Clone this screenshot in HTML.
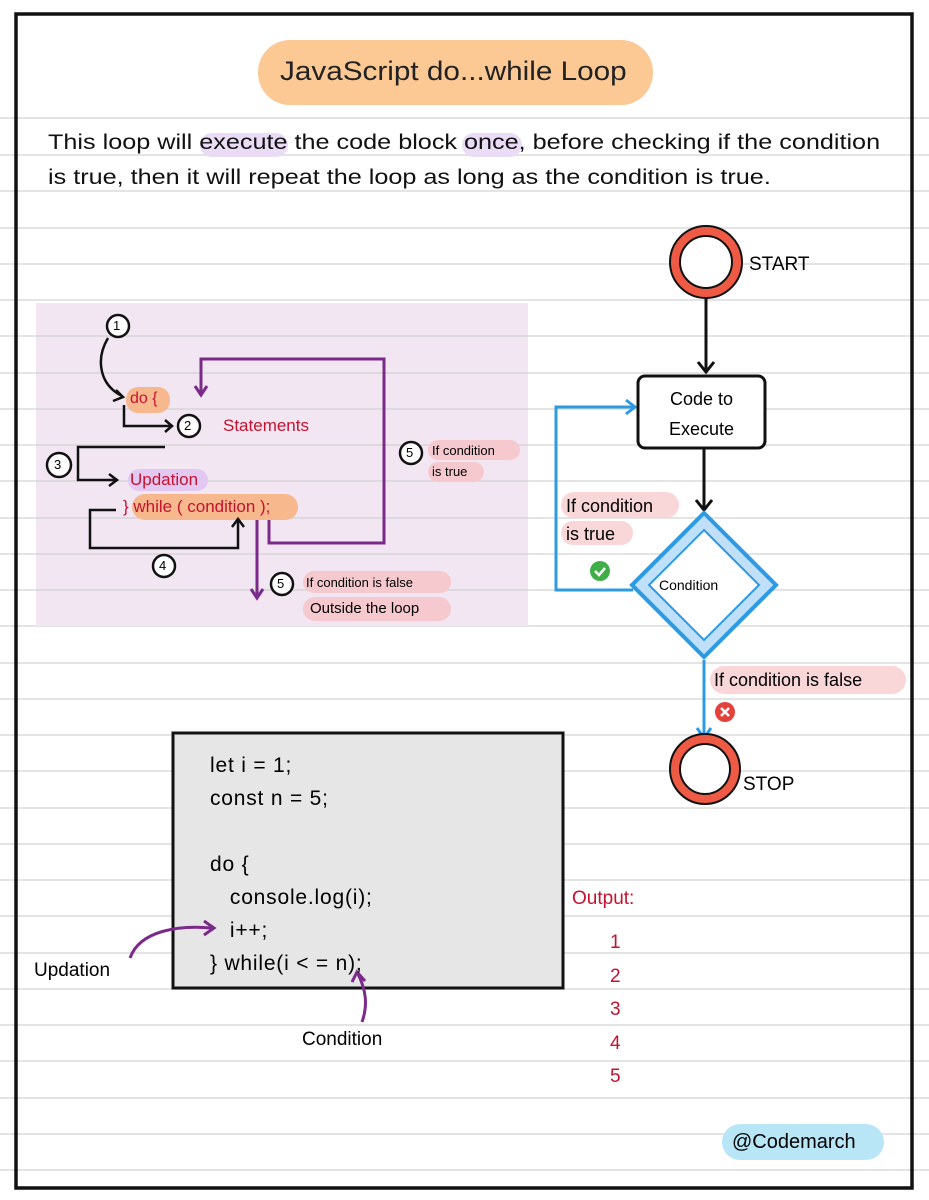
<!DOCTYPE html>
<html><head><style>
body{margin:0;width:929px;height:1200px;background:#fff;position:relative;overflow:hidden;font-family:"Liberation Sans",sans-serif}
.a{position:absolute;white-space:nowrap}
</style></head><body>
<svg width="929" height="1200" style="position:absolute;left:0;top:0">
<g stroke="#dcdcdc" stroke-width="1.5">
<line x1="0" y1="118" x2="929" y2="118"/><line x1="0" y1="155" x2="929" y2="155"/><line x1="0" y1="191" x2="929" y2="191"/><line x1="0" y1="228" x2="929" y2="228"/><line x1="0" y1="264" x2="929" y2="264"/><line x1="0" y1="300" x2="929" y2="300"/><line x1="0" y1="336" x2="929" y2="336"/><line x1="0" y1="373" x2="929" y2="373"/><line x1="0" y1="409" x2="929" y2="409"/><line x1="0" y1="445" x2="929" y2="445"/><line x1="0" y1="481" x2="929" y2="481"/><line x1="0" y1="518" x2="929" y2="518"/><line x1="0" y1="554" x2="929" y2="554"/><line x1="0" y1="590" x2="929" y2="590"/><line x1="0" y1="626" x2="929" y2="626"/><line x1="0" y1="663" x2="929" y2="663"/><line x1="0" y1="699" x2="929" y2="699"/><line x1="0" y1="735" x2="929" y2="735"/><line x1="0" y1="771" x2="929" y2="771"/><line x1="0" y1="808" x2="929" y2="808"/><line x1="0" y1="844" x2="929" y2="844"/><line x1="0" y1="880" x2="929" y2="880"/><line x1="0" y1="916" x2="929" y2="916"/><line x1="0" y1="953" x2="929" y2="953"/><line x1="0" y1="989" x2="929" y2="989"/><line x1="0" y1="1025" x2="929" y2="1025"/><line x1="0" y1="1061" x2="929" y2="1061"/><line x1="0" y1="1098" x2="929" y2="1098"/><line x1="0" y1="1134" x2="929" y2="1134"/><line x1="0" y1="1170" x2="929" y2="1170"/>
</g>
<rect x="16" y="14" width="896" height="1174" fill="none" stroke="#111" stroke-width="3.5"/>
<rect x="258" y="40" width="395" height="65" rx="32" fill="#fcc994"/>
<rect x="200" y="133" width="88" height="24" rx="12" fill="#eadcf7"/>
<rect x="462" y="133" width="60" height="24" rx="12" fill="#eadcf7"/>
<rect x="36" y="303" width="492" height="323" fill="#f1e6f2"/>
<g stroke="#ccc" stroke-width="1"><line x1="36" y1="336" x2="528" y2="336"/><line x1="36" y1="373" x2="528" y2="373"/><line x1="36" y1="409" x2="528" y2="409"/><line x1="36" y1="445" x2="528" y2="445"/><line x1="36" y1="481" x2="528" y2="481"/><line x1="36" y1="518" x2="528" y2="518"/><line x1="36" y1="554" x2="528" y2="554"/><line x1="36" y1="590" x2="528" y2="590"/></g>
<rect x="126" y="387" width="44" height="26" rx="12" fill="#f8b88e"/>
<rect x="128" y="469" width="80" height="22" rx="11" fill="#e3c8f2"/>
<rect x="132" y="494" width="166" height="26" rx="13" fill="#f8b88e"/>
<rect x="428" y="440" width="92" height="20" rx="10" fill="#f6c9cf"/>
<rect x="428" y="462" width="56" height="20" rx="10" fill="#f6c9cf"/>
<rect x="303" y="571" width="148" height="22" rx="11" fill="#f6c9cf"/>
<rect x="303" y="597" width="148" height="24" rx="12" fill="#f6c9cf"/>
<g fill="none" stroke="#111" stroke-width="2.5">
<path d="M108 338 C95 360 100 385 122 396"/><path d="M116 390 L123 397 L113 401"/>
<path d="M124 405 V426 H172"/><path d="M165 420 L172 426 L165 432"/>
<path d="M165 447 H78 V480 H116"/><path d="M109 474 L117 480 L109 486"/>
<path d="M116 510 H90 V548 H238 V520"/><path d="M232 527 L238 519 L244 527"/>
<circle cx="118" cy="326" r="11" fill="#fff"/><circle cx="189" cy="426" r="11" fill="#fff"/><circle cx="59" cy="465" r="12" fill="#fff"/><circle cx="164" cy="566" r="11" fill="#fff"/><circle cx="411" cy="453" r="11" fill="#fff"/><circle cx="282" cy="584" r="11" fill="#fff"/>
</g>
<g fill="none" stroke="#7b2a8a" stroke-width="3">
<path d="M269 520 V543 H384 V359 H201 V393"/><path d="M195 386 L201 395 L207 386"/>
<path d="M257 520 V597"/><path d="M251 589 L257 598 L263 589"/>
</g>
<g fill="none" stroke="#111" stroke-width="3">
<path d="M706 297 V372"/><path d="M698 362 L706 372 L714 362"/>
<path d="M704 448 V510"/><path d="M696 500 L704 510 L712 500"/>
</g>
<g fill="none" stroke="#2d9be3" stroke-width="3">
<path d="M633 590 H556 V407 H634"/><path d="M626 400 L635 407 L626 414"/>
<path d="M704 660 V738"/><path d="M697 728 L704 738 L711 728"/>
</g>
<circle cx="706" cy="262" r="31" fill="#fff" stroke="#111" stroke-width="12"/><circle cx="706" cy="262" r="31" fill="none" stroke="#ef5a45" stroke-width="8"/>
<circle cx="705" cy="769" r="30" fill="#fff" stroke="#111" stroke-width="12"/><circle cx="705" cy="769" r="30" fill="none" stroke="#ef5a45" stroke-width="8"/>
<rect x="638" y="376" width="127" height="72" rx="7" fill="#fff" stroke="#111" stroke-width="3"/>
<polygon points="704,513 776,585 704,657 632,585" fill="#bfe0f8" stroke="#2d9be3" stroke-width="4"/>
<polygon points="704,530 759,585 704,640 649,585" fill="#fff" stroke="#2d9be3" stroke-width="2"/>
<rect x="561" y="492" width="118" height="26" rx="13" fill="#f9d6d8"/><rect x="561" y="521" width="72" height="24" rx="12" fill="#f9d6d8"/>
<rect x="710" y="666" width="196" height="28" rx="14" fill="#f9d6d8"/>
<circle cx="600" cy="571" r="10" fill="#3fae49"/><path d="M595 571 l4 4 l6 -7" stroke="#fff" stroke-width="2.5" fill="none"/>
<circle cx="725" cy="712" r="10" fill="#e5413b"/><path d="M721 708 l8 8 M729 708 l-8 8" stroke="#fff" stroke-width="2.5"/>
<rect x="173" y="733" width="390" height="255" fill="#e6e6e6" stroke="#111" stroke-width="3"/>
<g fill="none" stroke="#7b2a8a" stroke-width="3">
<path d="M130 958 C140 930 180 925 212 928"/><path d="M204 921 L214 928 L204 935"/>
<path d="M362 1022 C368 1005 366 990 358 974"/><path d="M352 982 L357 972 L365 981"/>
</g>
<rect x="722" y="1124" width="162" height="36" rx="18" fill="#b8e6f7"/>
</svg>
<div class="a" style="left:280px;top:56px;font-size:27px;color:#222;transform:scaleX(1.1);transform-origin:0 0">JavaScript do...while Loop</div>
<div class="a" style="left:48px;top:131px;font-size:21px;color:#111;transform:scaleX(1.2);transform-origin:0 0">This loop will execute the code block once, before checking if the condition</div>
<div class="a" style="left:48px;top:166px;font-size:21px;color:#111;transform:scaleX(1.2);transform-origin:0 0">is true, then it will repeat the loop as long as the condition is true.</div>
<div class="a" style="left:113px;top:318px;font-size:13px">1</div><div class="a" style="left:184px;top:418px;font-size:13px">2</div><div class="a" style="left:54px;top:457px;font-size:13px">3</div><div class="a" style="left:159px;top:558px;font-size:13px">4</div><div class="a" style="left:406px;top:445px;font-size:13px">5</div><div class="a" style="left:277px;top:576px;font-size:13px">5</div>
<div class="a" style="left:130px;top:390px;font-size:16px;color:#c4122f">do {</div>
<div class="a" style="left:223px;top:416px;font-size:17px;color:#c4122f">Statements</div>
<div class="a" style="left:130px;top:470px;font-size:17px;color:#c4122f">Updation</div>
<div class="a" style="left:123px;top:497px;font-size:17px;color:#c4122f">} while ( condition );</div>
<div class="a" style="left:432px;top:443px;font-size:13px">If condition</div>
<div class="a" style="left:432px;top:464px;font-size:13px">is true</div>
<div class="a" style="left:306px;top:575px;font-size:13px">If condition is false</div>
<div class="a" style="left:310px;top:600px;font-size:15px">Outside the loop</div>
<div class="a" style="left:749px;top:254px;font-size:19px">START</div>
<div class="a" style="left:743px;top:774px;font-size:19px">STOP</div>
<div class="a" style="left:638px;top:384px;width:127px;text-align:center;font-size:18px;line-height:30px;white-space:normal">Code to Execute</div>
<div class="a" style="left:659px;top:577px;font-size:14px">Condition</div>
<div class="a" style="left:566px;top:496px;font-size:18px">If condition</div>
<div class="a" style="left:566px;top:524px;font-size:18px">is true</div>
<div class="a" style="left:714px;top:670px;font-size:18px">If condition is false</div>
<div class="a" style="left:210px;top:749px;font-size:21px;line-height:33px;letter-spacing:0.8px;white-space:pre">let i = 1;
const n = 5;

do {
   console.log(i);
   i++;
} while(i &lt; = n);</div>
<div class="a" style="left:34px;top:960px;font-size:19px">Updation</div>
<div class="a" style="left:302px;top:1029px;font-size:19px">Condition</div>
<div class="a" style="left:572px;top:888px;font-size:19px;color:#c4122f">Output:</div>
<div class="a" style="left:610px;top:926px;font-size:19px;color:#c4122f;line-height:33.5px;white-space:pre">1
2
3
4
5</div>
<div class="a" style="left:732px;top:1131px;font-size:20px">@Codemarch</div>
</body></html>
